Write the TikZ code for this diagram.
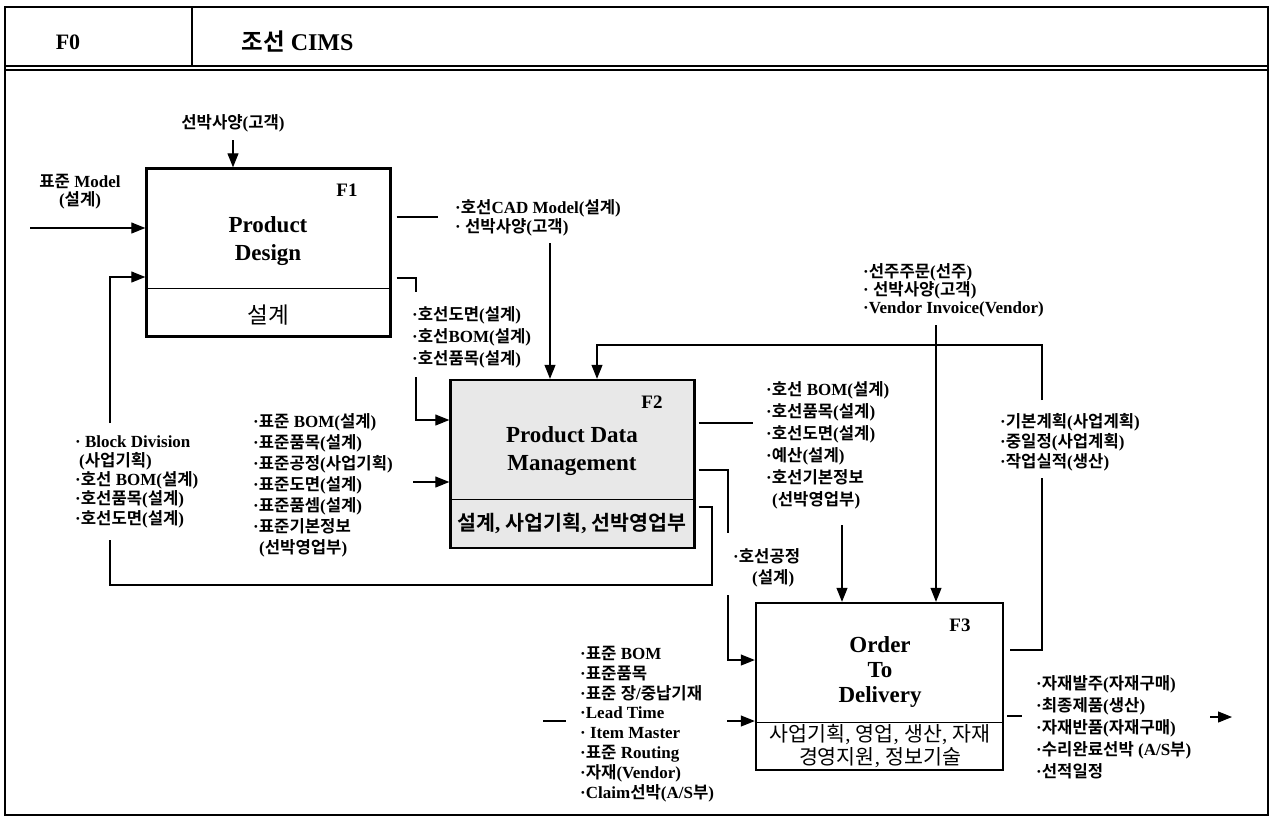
\documentclass[tikz,border=0pt]{standalone}
\usepackage{fontspec}
\setmainfont{Liberation Serif}
\newfontfamily\krfont{Noto Sans CJK KR}[BoldFont={Noto Sans CJK KR Bold}, Scale=0.98]
\usetikzlibrary{arrows.meta}
% hangul runs in the cjk font
\XeTeXinterchartokenstate=1
\newXeTeXintercharclass\krclass
\newcount\krcode
\krcode="AC00
\loop
  \XeTeXcharclass\krcode=\krclass
  \advance\krcode by 1
\ifnum\krcode<"D7A4 \repeat
\XeTeXinterchartoks 0 \krclass = {\begingroup\krfont}
\XeTeXinterchartoks 4095 \krclass = {\begingroup\krfont}
\XeTeXinterchartoks \krclass 0 = {\endgroup}
\XeTeXinterchartoks \krclass 4095 = {\endgroup}
\tikzset{
    lab/.style={
        font=\bfseries\fontsize{17}{#1}\selectfont, align=left, inner sep=0pt
    },
    lab/.default=21
}

\begin{document}
\begin{tikzpicture}[x=1pt,y=-1pt, line join=miter]

\tikzset{
  main/.style={draw=black, line width=1.1pt},
  arr/.style={main, -{Triangle[length=14pt,width=11pt]}},
  fnbox/.style={draw=black, line width=2.4pt, minimum width=244pt, minimum height=168pt, inner sep=0pt},
  cut/.style={draw=black, line width=0.9pt},
  fid/.style={font=\bfseries\fontsize{19}{22}\selectfont},
  ttl/.style={font=\bfseries\fontsize{23}{28}\selectfont, align=center},
  mech/.style={font=\fontsize{21}{23}\selectfont, align=center},
}

\useasboundingbox (0,0) rectangle (1273,823);

% frame
\draw[draw=black, line width=2.2pt] (5,7) rectangle (1268,815);
\draw[main] (5,66) -- (1268,66);
\draw[main] (5,70) -- (1268,70);
\draw[main] (192,7) -- (192,66);
\node[font=\bfseries\fontsize{22}{26}\selectfont] (fzero) at (68,42) {F0};
\node[font=\bfseries\fontsize{24}{26}\selectfont, anchor=west] (title) at (238,42) {조선 CIMS};

% boxes
\node[fnbox] (F1) at (268.5,252.5) {};
\node[fnbox, fill=black!9] (F2) at (572.5,464) {};
\node[fnbox, minimum width=247pt, minimum height=167pt] (F3) at (879.5,686.5) {};
\coordinate (F1cut) at (0,288);
\coordinate (F2cut) at (0,499);
\coordinate (F3cut) at (0,722);
\draw[cut] (F1.west |- F1cut) -- (F1.east |- F1cut);
\draw[cut] (F2.west |- F2cut) -- (F2.east |- F2cut);
\draw[cut] (F3.west |- F3cut) -- (F3.east |- F3cut);

% box texts
\node[fid] (F1id) at (347,190) {F1};
\node[ttl] (F1name) at (268,241) {Product\\Design};
\node[mech, font=\fontsize{23}{24}\selectfont] (F1who) at (268,315) {설계};
\node[fid] (F2id) at (652,402) {F2};
\node[ttl] (F2name) at (572,451) {Product Data\\Management};
\node[mech, font=\bfseries\fontsize{21}{22}\selectfont] (F2who) at (572,523) {설계, 사업기획, 선박영업부};
\node[fid] (F3id) at (960,625) {F3};
\node[ttl, font=\bfseries\fontsize{23}{25}\selectfont] (F3name) at (880,672) {Order\\To\\Delivery};
\node[mech] (F3who) at (880,746) {사업기획, 영업, 생산, 자재\\경영지원, 정보기술};

% labels
\node[lab] (ship) at (233,123) {선박사양(고객)};
\node[lab=18, align=center] (stdM) at (80,192) {표준 Model\\(설계)};
\node[lab=19, anchor=west] (cad) at (455,217.5) {·호선CAD Model(설계)\\· 선박사양(고객)};
\node[lab=22, anchor=west] (dwg) at (412,337.5) {·호선도면(설계)\\·호선BOM(설계)\\·호선품목(설계)};
\node[lab=19.25, anchor=west] (blk) at (75,481.5) {· Block Division\\\hspace{4pt}(사업기획)\\·호선 BOM(설계)\\·호선품목(설계)\\·호선도면(설계)};
\node[lab, anchor=west] (std) at (253,485.5) {·표준 BOM(설계)\\·표준품목(설계)\\·표준공정(사업기획)\\·표준도면(설계)\\·표준품셈(설계)\\·표준기본정보\\\hspace{6pt}(선박영업부)};
\node[lab=22, anchor=west] (hbom) at (766,445) {·호선 BOM(설계)\\·호선품목(설계)\\·호선도면(설계)\\·예산(설계)\\·호선기본정보\\\hspace{6pt}(선박영업부)};
\node[lab, anchor=west] (proc) at (733,567.5) {·호선공정\\\hspace{19pt}(설계)};
\node[lab=18, anchor=west] (ord) at (863,290) {·선주주문(선주)\\· 선박사양(고객)\\·Vendor Invoice(Vendor)};
\node[lab=20, anchor=west] (plan) at (1000,442) {·기본계획(사업계획)\\·중일정(사업계획)\\·작업실적(생산)};
\node[lab=19.8, anchor=west] (mat) at (580,724) {·표준 BOM\\·표준품목\\·표준 장/중납기재\\·Lead Time\\· Item Master\\·표준 Routing\\·자재(Vendor)\\·Claim선박(A/S부)};
\node[lab=22, anchor=west] (outp) at (1036,727) {·자재발주(자재구매)\\·최종제품(생산)\\·자재반품(자재구매)\\·수리완료선박 (A/S부)\\·선적일정};

% connector points
\coordinate (inM) at (30,228);
\coordinate (shipE) at (233,140);
\coordinate (o1a) at (438,217);
\coordinate (o1b) at (550,243);
\coordinate (o2a) at (416,278);
\coordinate (o2b) at (416,292);
\coordinate (o2c) at (416,377);
\coordinate (o2d) at (416,420);
\coordinate (in2) at (413,482);
\coordinate (fb1) at (712,507);
\coordinate (fb2) at (712,585);
\coordinate (fb3) at (110,585);
\coordinate (fb4) at (110,540);
\coordinate (fb5) at (110,423);
\coordinate (fb6) at (110,277);
\coordinate (p1a) at (753,423);
\coordinate (p1b) at (842,525);
\coordinate (p2a) at (728,470);
\coordinate (p2b) at (728,533);
\coordinate (p2c) at (728,595);
\coordinate (p2d) at (728,660);
\coordinate (ordS) at (936,325);
\coordinate (fc1) at (1042,650);
\coordinate (fc2) at (1042,478);
\coordinate (fc3) at (1042,400);
\coordinate (fc4) at (1042,345);
\coordinate (fc5) at (597,345);
\coordinate (m1a) at (543,721);
\coordinate (m1b) at (566,721);
\coordinate (m2a) at (727,721);
\coordinate (q1a) at (1022,716);
\coordinate (q2a) at (1210,717);
\coordinate (q2b) at (1232,717);

% F1 inputs
\draw[arr] (inM) -- (F1.west |- inM);
\draw[arr] (shipE) -- (shipE |- F1.north);
\draw[main] (F2.east |- fb1) ++(3,0) -- (fb1) -- (fb2) -- (fb3) -- (fb4);
\draw[arr] (fb5) -- (fb6) -- (F1.west |- fb6);

% F1 outputs
\draw[main] ([xshift=5pt]F1.east |- o1a) -- (o1a);
\draw[arr] (o1b) -- (o1b |- F2.north);
\draw[main] ([xshift=5pt]F1.east |- o2a) -- (o2a) -- (o2b);
\draw[arr] (o2c) -- (o2d) -- (F2.west |- o2d);

% F2 inputs
\draw[arr] (in2) -- (F2.west |- in2);
\draw[main] ([xshift=6pt]F3.east |- fc1) -- (fc1) -- (fc2);
\draw[arr] (fc3) -- (fc4) -- (fc5) -- (fc5 |- F2.north);

% F2 outputs
\draw[main] ([xshift=3pt]F2.east |- p1a) -- (p1a);
\draw[arr] (p1b) -- (p1b |- F3.north);
\draw[main] ([xshift=3pt]F2.east |- p2a) -- (p2a) -- (p2b);
\draw[arr] (p2c) -- (p2d) -- (F3.west |- p2d);

% F3 inputs and outputs
\draw[arr] (ordS) -- (ordS |- F3.north);
\draw[main] (m1a) -- (m1b);
\draw[arr] (m2a) -- (F3.west |- m2a);
\draw[main] ([xshift=3pt]F3.east |- q1a) -- (q1a);
\draw[arr] (q2a) -- (q2b);

\end{tikzpicture}
\end{document}
